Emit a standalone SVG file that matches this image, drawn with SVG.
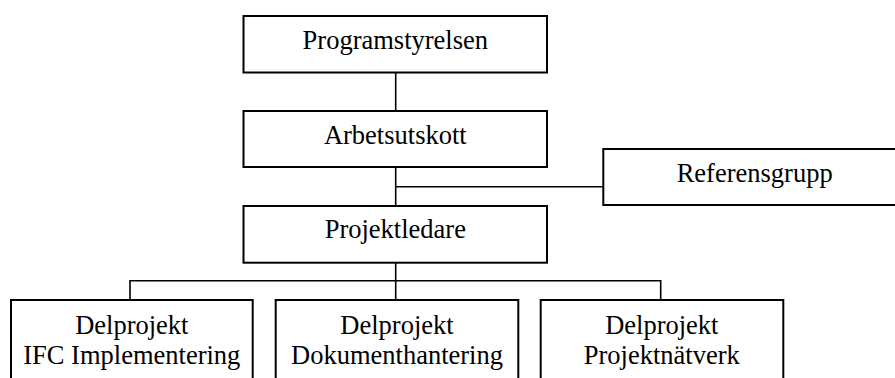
<svg xmlns="http://www.w3.org/2000/svg" width="895" height="378" viewBox="0 0 895 378">
<style>
.box{fill:#fff;stroke:#000;stroke-width:2}
.t{font-family:"Liberation Serif","Times New Roman",serif;font-size:26.5px;fill:#000;text-anchor:middle}
.c{fill:none;stroke:#000;stroke-width:1.6}
</style>
<rect width="895" height="378" fill="#fff"/>
<g id="connectors">
<path class="c" d="M395.7 72.5V111"/>
<path class="c" d="M395.7 167V206"/>
<path class="c" d="M395.7 186.7H603"/>
<path class="c" d="M395.7 262.7V300"/>
<path class="c" d="M130 300V280.7H660.7V300"/>
</g>
<g id="programstyrelsen">
<rect class="box" x="243.5" y="16" width="303.5" height="56.5"/>
<text class="t" x="395.3" y="49.3">Programstyrelsen</text>
</g>
<g id="arbetsutskott">
<rect class="box" x="243.5" y="111" width="303.5" height="56"/>
<text class="t" x="395.3" y="144.3">Arbetsutskott</text>
</g>
<g id="referensgrupp">
<rect class="box" x="603.3" y="149" width="300" height="56"/>
<text class="t" x="754.7" y="181.7">Referensgrupp</text>
</g>
<g id="projektledare">
<rect class="box" x="243.5" y="206" width="303.5" height="56.7"/>
<text class="t" x="395.3" y="238.3">Projektledare</text>
</g>
<g id="delprojekt-ifc">
<rect class="box" x="11" y="300" width="241.7" height="90"/>
<text class="t" x="131.8" y="334">Delprojekt</text>
<text class="t" x="131.8" y="364.3">IFC Implementering</text>
</g>
<g id="delprojekt-dok">
<rect class="box" x="275.7" y="300" width="242.6" height="90"/>
<text class="t" x="397" y="334">Delprojekt</text>
<text class="t" x="397" y="364.3">Dokumenthantering</text>
</g>
<g id="delprojekt-natverk">
<rect class="box" x="540.7" y="300" width="242.6" height="90"/>
<text class="t" x="661.8" y="334">Delprojekt</text>
<text class="t" x="661.8" y="364.3">Projektnätverk</text>
</g>
</svg>
